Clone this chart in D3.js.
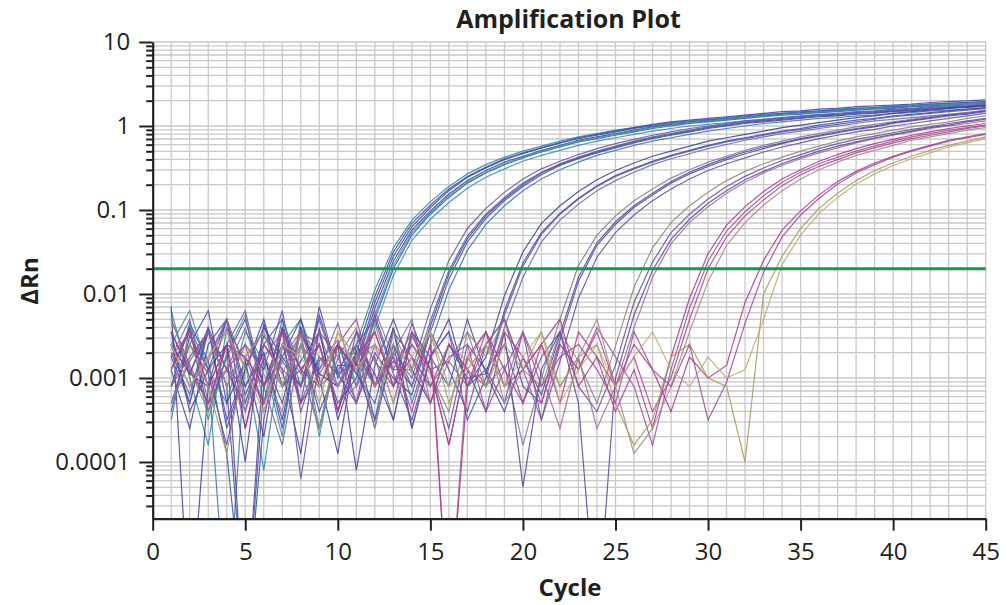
<!DOCTYPE html>
<html><head><meta charset="utf-8">
<script src="https://cdn.jsdelivr.net/npm/d3@7"></script>
<style>body{margin:0;background:#fff}svg{display:block}</style>
</head><body>
<svg id="chart" width="1007" height="605"></svg>
<script>
// ---- axis ticks / labels ----
const xTicks = [0,5,10,15,20,25,30,35,40,45];
const yMajorTicks = [10,1,0.1,0.01,0.001,0.0001];
const yTickLabels = ["10","1","0.1","0.01","0.001","0.0001"];
const thresholdValue = 0.02;
const titleText = "Amplification Plot";
const xLabel = "Cycle";
const yLabel = "ΔRn";

// ---- well curves: log10(ΔRn). "pre" starts at cycle 1, "amp" ends at cycle 45 ----
// group Ct ~12.8
const w01pre=[-2.6,-3.3,-2.4,-3.6,-2.9,-2.3,-3.1,-2.6,-3.4,-2.85];
const w01amp=[-2.85,-2.17,-1.61,-1.24,-1.01,-0.81,-0.65,-0.53,-0.43,-0.36,-0.29,-0.23,-0.17,-0.13,-0.09,-0.05,-0.01,0.02,0.04,0.06,0.08,0.10,0.12,0.14,0.15,0.17,0.18,0.20,0.21,0.22,0.23,0.25,0.26,0.27,0.28];
const w02pre=[-2.2,-3.0,-3.8,-2.4,-2.8,-4.1,-2.6,-2.3,-3.1,-2.9];
const w02amp=[-2.6,-1.95,-1.45,-1.12,-0.90,-0.72,-0.57,-0.46,-0.37,-0.30,-0.24,-0.18,-0.13,-0.09,-0.05,-0.02,0.01,0.04,0.06,0.08,0.10,0.12,0.14,0.15,0.17,0.18,0.20,0.21,0.22,0.24,0.25,0.26,0.27,0.28,0.29];
const w03pre=[-3.1,-2.35,-2.8,-3.9,-6,-3.5,-2.4,-3.1,-2.6,-3.3];
const w03amp=[-3.0,-2.3,-1.70,-1.30,-1.05,-0.85,-0.68,-0.56,-0.46,-0.38,-0.31,-0.25,-0.19,-0.15,-0.11,-0.07,-0.03,0.00,0.03,0.05,0.07,0.09,0.11,0.13,0.14,0.16,0.17,0.19,0.20,0.21,0.23,0.24,0.25,0.26,0.27];
const w04pre=[-2.15,-6,-3.1,-2.3,-3.6,-2.6,-2.9,-3.9,-2.4,-3.5];
const w04amp=[-2.8,-2.1,-1.55,-1.2,-0.97,-0.77,-0.61,-0.50,-0.40,-0.33,-0.26,-0.20,-0.14,-0.10,-0.06,-0.02,0.02,0.05,0.07,0.09,0.11,0.13,0.15,0.17,0.18,0.20,0.21,0.23,0.24,0.25,0.26,0.28,0.29,0.30,0.31];
const w05pre=[-2.6,-2.2,-2.9,-3.3,-2.45,-2.8,-3.7,-2.3,-2.9,-2.6];
const w05amp=[-3.1,-2.4,-1.78,-1.36,-1.11,-0.91,-0.74,-0.61,-0.51,-0.42,-0.35,-0.29,-0.23,-0.18,-0.14,-0.10,-0.06,-0.03,0.00,0.02,0.04,0.06,0.08,0.10,0.11,0.13,0.14,0.16,0.17,0.18,0.20,0.21,0.22,0.23,0.24];
const w30pre=[-3.4,-2.5,-2.9,-2.3,-3.2,-2.7,-3.6,-2.4,-2.95,-3.1];
const w30amp=[-2.7,-2.03,-1.50,-1.16,-0.94,-0.75,-0.60,-0.49,-0.39,-0.32,-0.26,-0.20,-0.15,-0.11,-0.07,-0.03,0.00,0.03,0.05,0.07,0.09,0.11,0.13,0.15,0.16,0.18,0.19,0.21,0.22,0.23,0.24,0.26,0.27,0.28,0.29];
const w31pre=[-2.9,-2.4,-3.5,-2.7,-2.25,-3.3,-2.8,-2.5,-3.7,-2.6];
const w31amp=[-2.95,-2.25,-1.66,-1.27,-1.03,-0.83,-0.67,-0.55,-0.45,-0.37,-0.30,-0.24,-0.18,-0.14,-0.10,-0.06,-0.02,0.01,0.04,0.06,0.08,0.10,0.12,0.14,0.15,0.17,0.18,0.20,0.21,0.22,0.24,0.25,0.26,0.27,0.28];
// group Ct ~16.1
const w06pre=[-2.9,-3.6,-2.6,-2.3,-3.1,-2.7,-3.5,-2.4,-3.0,-3.9,-2.6,-3.1,-2.8];
const w06amp=[-3.1,-2.38,-1.76,-1.34,-1.07,-0.87,-0.70,-0.56,-0.46,-0.38,-0.31,-0.25,-0.19,-0.14,-0.10,-0.06,-0.02,0.01,0.04,0.06,0.08,0.10,0.12,0.13,0.15,0.16,0.18,0.19,0.21,0.22,0.23,0.24];
const w07pre=[-2.3,-2.85,-3.3,-2.6,-2.2,-3.1,-2.4,-4.2,-2.8,-2.55,-3.3,-2.25,-2.9];
const w07amp=[-2.9,-2.18,-1.60,-1.22,-0.98,-0.79,-0.63,-0.51,-0.42,-0.34,-0.27,-0.21,-0.16,-0.11,-0.07,-0.03,0.00,0.03,0.06,0.08,0.10,0.12,0.14,0.15,0.17,0.18,0.20,0.21,0.23,0.24,0.25,0.26];
const w08pre=[-3.5,-2.4,-2.9,-6,-2.75,-3.3,-2.3,-2.9,-3.6,-2.6,-2.9,-3.5,-2.4];
const w08amp=[-3.3,-2.6,-1.95,-1.48,-1.17,-0.95,-0.77,-0.63,-0.52,-0.43,-0.35,-0.29,-0.23,-0.18,-0.14,-0.10,-0.06,-0.03,0.00,0.03,0.05,0.07,0.09,0.10,0.12,0.13,0.15,0.16,0.18,0.19,0.20,0.21];
const w09pre=[-2.6,-2.95,-2.4,-3.5,-2.9,-2.4,-2.75,-3.1,-2.25,-2.95,-3.3,-2.7,-3.0];
const w09amp=[-3.2,-2.45,-1.82,-1.38,-1.10,-0.89,-0.72,-0.58,-0.47,-0.39,-0.32,-0.26,-0.20,-0.15,-0.11,-0.07,-0.03,0.00,0.03,0.05,0.07,0.09,0.11,0.12,0.14,0.15,0.17,0.18,0.20,0.21,0.22,0.23];
const w32pre=[-2.7,-3.2,-2.4,-2.9,-3.4,-2.5,-2.8,-3.1,-2.3,-3.0,-2.6,-3.5,-2.7];
const w32amp=[-3.0,-2.32,-1.72,-1.31,-1.05,-0.85,-0.68,-0.55,-0.45,-0.37,-0.30,-0.24,-0.18,-0.13,-0.09,-0.05,-0.01,0.02,0.05,0.07,0.09,0.11,0.13,0.14,0.16,0.17,0.19,0.20,0.22,0.23,0.24,0.25];
// group Ct ~19.9
const w10pre=[-3.1,-2.6,-2.2,-3.3,-2.8,-3.7,-2.4,-2.9,-3.1,-2.6,-4.1,-2.85,-2.3,-2.9,-3.3,-2.6,-3.0];
const w10amp=[-2.95,-2.2,-1.63,-1.27,-1.04,-0.86,-0.71,-0.59,-0.50,-0.42,-0.35,-0.29,-0.23,-0.18,-0.14,-0.10,-0.06,-0.03,0.01,0.04,0.07,0.09,0.12,0.14,0.16,0.18,0.20,0.22];
const w11pre=[-2.45,-3.4,-2.9,-2.6,-4.0,-2.35,-3.1,-2.8,-2.45,-3.4,-2.7,-3.1,-2.4,-3.6,-2.75,-2.3,-3.1];
const w11amp=[-2.75,-2.02,-1.50,-1.16,-0.95,-0.78,-0.64,-0.53,-0.44,-0.36,-0.30,-0.24,-0.18,-0.14,-0.10,-0.06,-0.02,0.01,0.04,0.07,0.10,0.12,0.15,0.17,0.19,0.21,0.23,0.25];
const w12pre=[-2.75,-2.3,-3.3,-2.9,-2.4,-3.1,-3.8,-2.6,-2.9,-2.35,-3.1,-2.75,-3.5,-2.5,-2.9,-3.8,-2.75];
const w12amp=[-3.1,-2.4,-1.80,-1.38,-1.12,-0.93,-0.77,-0.65,-0.55,-0.46,-0.39,-0.33,-0.27,-0.22,-0.17,-0.13,-0.09,-0.06,-0.03,0.00,0.03,0.06,0.08,0.10,0.12,0.14,0.16,0.18];
const w13pre=[-3.3,-2.8,-2.45,-3.1,-2.6,-2.9,-2.2,-3.3,-2.75,-3.1,-2.6,-2.3,-2.95,-3.5,-2.75,-2.45,-3.5];
const w13amp=[-3.0,-2.25,-1.67,-1.29,-1.05,-0.87,-0.72,-0.60,-0.51,-0.43,-0.36,-0.30,-0.24,-0.19,-0.15,-0.11,-0.07,-0.04,-0.01,0.02,0.05,0.08,0.11,0.13,0.15,0.17,0.19,0.21];
// group Ct ~23.3
const w14pre=[-2.9,-2.4,-3.4,-2.75,-2.3,-3.1,-2.6,-3.3,-2.15,-2.95,-2.8,-3.6,-2.6,-3.1,-2.45,-2.9,-3.4,-2.6,-2.3,-3.1];
const w14amp=[-3.3,-2.55,-1.85,-1.42,-1.17,-0.97,-0.82,-0.68,-0.57,-0.48,-0.40,-0.33,-0.27,-0.21,-0.16,-0.12,-0.08,-0.04,-0.01,0.03,0.06,0.09,0.12,0.14,0.17];
const w15pre=[-2.6,-3.1,-2.75,-2.3,-3.3,-2.6,-2.95,-2.45,-3.6,-2.75,-2.4,-3.1,-2.7,-2.3,-3.3,-2.8,-2.45,-3.1,-2.85,-3.8];
const w15amp=[-3.0,-2.3,-1.66,-1.30,-1.07,-0.89,-0.75,-0.62,-0.52,-0.43,-0.36,-0.29,-0.23,-0.18,-0.13,-0.09,-0.05,-0.01,0.02,0.05,0.08,0.11,0.14,0.16,0.19];
const w16pre=[-3.3,-2.6,-2.95,-3.8,-2.75,-2.45,-3.1,-2.9,-2.6,-3.4,-2.45,-2.8,-3.1,-2.35,-2.9,-3.6,-2.6,-2.9,-3.3,-2.45];
const w16amp=[-3.5,-2.8,-2.05,-1.56,-1.27,-1.06,-0.89,-0.75,-0.63,-0.53,-0.45,-0.38,-0.31,-0.25,-0.20,-0.15,-0.11,-0.07,-0.04,0.00,0.03,0.06,0.09,0.12,0.15];
const w17pre=[-2.45,-2.95,-3.1,-2.6,-6,-2.75,-3.3,-2.45,-2.95,-3.1,-2.6,-2.95,-3.5,-2.45,-2.75,-3.1,-2.3,-2.95,-3.4,-2.75];
const w17amp=[-3.2,-2.48,-1.80,-1.39,-1.14,-0.95,-0.80,-0.66,-0.55,-0.46,-0.38,-0.31,-0.25,-0.20,-0.15,-0.11,-0.07,-0.03,0.00,0.04,0.07,0.10,0.13,0.15,0.18];
// group Ct ~26.7
const w18pre=[-2.75,-3.3,-2.45,-2.9,-3.1,-2.6,-2.3,-3.4,-2.75,-2.95,-2.45,-3.1,-2.6,-3.6,-2.75,-2.45,-3.1,-2.9,-2.6,-3.3,-2.75,-2.45,-3.1];
const w18amp=[-3.4,-2.85,-2.1,-1.62,-1.27,-1.05,-0.87,-0.72,-0.60,-0.50,-0.41,-0.34,-0.27,-0.21,-0.16,-0.12,-0.08,-0.04,-0.01,0.03,0.06,0.09];
const w19pre=[-2.3,-2.9,-3.4,-2.6,-2.75,-3.1,-2.45,-2.9,-3.6,-2.6,-2.8,-2.35,-3.1,-2.6,-2.95,-3.4,-2.45,-2.75,-2.3,-2.9,-3.1,-2.45,-2.8,-3.3];
const w19amp=[-2.62,-1.92,-1.45,-1.15,-0.95,-0.79,-0.65,-0.54,-0.45,-0.37,-0.30,-0.24,-0.18,-0.13,-0.09,-0.05,-0.01,0.02,0.05,0.09,0.12];
const w20pre=[-3.1,-2.6,-2.95,-2.4,-3.4,-2.75,-3.1,-2.45,-2.6,-3.3,-3.1,-2.2,-2.75,-3.1,-2.45,-6,-2.9,-2.6,-3.1,-2.45,-2.95,-3.6,-2.75,-3.6];
const w20amp=[-3.1,-2.4,-1.80,-1.40,-1.15,-0.96,-0.80,-0.67,-0.56,-0.47,-0.39,-0.32,-0.26,-0.20,-0.15,-0.11,-0.07,-0.03,0.00,0.03,0.06];
const w21pre=[-2.6,-2.95,-2.45,-3.1,-6,-3.1,-2.75,-2.3,-3.1,-2.6,-2.95,-3.3,-2.45,-2.75,-3.1,-2.6,-2.9,-3.4,-2.45,-4.3,-2.9,-2.45,-3.3,-6];
const w21amp=[-3.0,-2.25,-1.72,-1.35,-1.11,-0.92,-0.77,-0.64,-0.54,-0.45,-0.37,-0.30,-0.24,-0.19,-0.14,-0.10,-0.06,-0.02,0.01,0.05,0.08];
// group Ct ~29.8
const w22pre=[-2.9,-2.45,-3.1,-2.6,-3.6,-2.75,-2.45,-3.3,-2.95,-2.6,-2.3,-3.1,-2.75,-3.4,-2.6,-6,-3.1,-2.45,-2.9,-3.3,-2.6,-2.3,-3.1,-2.75,-3.4,-2.9,-3.6];
const w22amp=[-2.75,-2.05,-1.52,-1.18,-0.96,-0.78,-0.63,-0.52,-0.42,-0.34,-0.27,-0.21,-0.16,-0.11,-0.07,-0.03,0.00,0.03];
const w23pre=[-2.6,-3.1,-2.8,-2.3,-2.9,-3.3,-2.6,-2.95,-2.45,-3.1,-2.75,-2.6,-3.3,-2.45,-2.9,-2.8,-3.1,-2.6,-2.3,-2.9,-3.5,-2.6,-2.9,-2.4,-2.75,-3.1,-3.8];
const w23amp=[-2.9,-2.17,-1.61,-1.25,-1.02,-0.83,-0.67,-0.55,-0.45,-0.37,-0.30,-0.24,-0.18,-0.13,-0.09,-0.05,-0.02,0.01];
const w24pre=[-3.3,-2.75,-2.45,-3.1,-2.6,-2.95,-3.4,-2.45,-2.75,-3.1,-2.6,-3.6,-2.45,-2.95,-3.1,-2.6,-2.8,-2.45,-3.3,-2.9,-2.6,-3.1,-2.75,-2.3,-3.1,-3.9,-3.6];
const w24amp=[-3.1,-2.45,-1.85,-1.42,-1.15,-0.94,-0.77,-0.63,-0.52,-0.43,-0.35,-0.29,-0.23,-0.17,-0.13,-0.09,-0.05,-0.02];
const w25pre=[-2.75,-2.45,-3.1,-2.9,-2.6,-3.4,-2.75,-2.45,-3.1,-2.6,-2.9,-2.45,-3.1,-2.75,-3.3,-2.6,-2.9,-3.1,-2.45,-2.75,-3.3,-2.6,-2.9,-2.45,-3.1,-2.75,-3.4];
const w25amp=[-3.0,-2.3,-1.70,-1.32,-1.07,-0.88,-0.71,-0.58,-0.48,-0.40,-0.32,-0.26,-0.20,-0.15,-0.11,-0.07,-0.03,0.00];
// group Ct ~33.2
const w26pre=[-2.45,-2.9,-3.3,-2.6,-2.75,-3.1,-2.45,-2.9,-2.6,-3.4,-2.75,-2.45,-3.1,-2.6,-2.9,-3.8,-2.75,-2.45,-3.1,-2.9,-2.6,-3.3,-2.45,-2.75,-3.1,-2.6,-2.9,-3.4,-2.75,-3.0];
const w26amp=[-2.85,-2.1,-1.60,-1.24,-1.01,-0.82,-0.66,-0.54,-0.44,-0.36,-0.29,-0.23,-0.17,-0.13,-0.09];
const w27pre=[-2.9,-2.6,-3.1,-3.9,-2.75,-2.45,-3.1,-2.6,-3.3,-2.45,-2.75,-3.1,-2.6,-2.9,-2.45,-3.3,-2.75,-3.1,-2.6,-2.9,-2.45,-3.1,-2.75,-2.6,-3.3,-3.8,-3.5,-2.75,-2.6,-3.0,-3.1];
const w27amp=[-4.0,-2.0,-1.55,-1.22,-0.98,-0.80,-0.65,-0.53,-0.44,-0.36,-0.29,-0.23,-0.18,-0.13];
const w28pre=[-3.1,-2.75,-2.45,-2.9,-3.3,-2.6,-2.9,-3.1,-2.45,-2.75,-3.3,-2.6,-2.9,-2.45,-3.1,-2.75,-2.6,-3.4,-2.9,-2.45,-3.1,-2.75,-2.6,-2.9,-3.3,-2.45,-2.9,-3.1,-2.6,-3.5];
const w28amp=[-3.05,-2.35,-1.74,-1.32,-1.06,-0.86,-0.69,-0.56,-0.46,-0.37,-0.30,-0.24,-0.18,-0.14,-0.10];
const w29pre=[-2.6,-3.1,-2.75,-2.45,-2.9,-3.4,-2.6,-2.75,-3.1,-2.45,-2.9,-2.6,-3.3,-2.75,-2.45,-3.1,-2.9,-2.6,-3.1,-2.75,-2.45,-3.3,-2.9,-2.6,-3.1,-2.75,-2.45,-2.9,-3.1,-2.75];
const w29amp=[-3.0,-2.9,-2.3,-1.65,-1.30,-1.04,-0.85,-0.69,-0.57,-0.47,-0.39,-0.32,-0.25,-0.20,-0.15];

const wellPre = [w01pre,w02pre,w03pre,w04pre,w05pre,w30pre,w31pre,w06pre,w07pre,w08pre,w09pre,w32pre,w10pre,w11pre,w12pre,w13pre,w14pre,w15pre,w16pre,w17pre,w18pre,w19pre,w20pre,w21pre,w22pre,w23pre,w24pre,w25pre,w26pre,w27pre,w28pre,w29pre];
const wellAmp = [w01amp,w02amp,w03amp,w04amp,w05amp,w30amp,w31amp,w06amp,w07amp,w08amp,w09amp,w32amp,w10amp,w11amp,w12amp,w13amp,w14amp,w15amp,w16amp,w17amp,w18amp,w19amp,w20amp,w21amp,w22amp,w23amp,w24amp,w25amp,w26amp,w27amp,w28amp,w29amp];
const wellColors = ["#3b46b5","#2f8f9f","#2c5fb0","#4b3fa8","#3d8fa5","#3553b0","#3a9c96",
  "#4446a8","#6a57a6","#3a78b0","#58489e","#4a62b0",
  "#5047a8","#3f3f9e","#7466a0","#4a5bb0",
  "#5c4aa6","#857a95","#6b4f9e","#4b4aa8",
  "#6a4ea0","#8f8a78","#a06a9a","#5d4a9c",
  "#b0388c","#8e5a9c","#a48a8a","#b5428f",
  "#b03a8a","#a89a62","#9c4f98","#c0a878"];

// ---- drawing ----
const svg = d3.select("#chart");
svg.append("rect").attr("width",1007).attr("height",605).attr("fill","#fff");
const L = 152.7, R = 985.7, T = 42, B = 518.7;
const x = d3.scaleLinear().domain([0,45]).range([L,R]);
const y = d3.scaleLog().domain([Math.pow(10,-4.675),10]).range([B,T]);
const font = "'Open Sans','Noto Sans','DejaVu Sans',sans-serif";
const ink = "#231f20";

svg.append("defs").append("clipPath").attr("id","plotclip")
  .append("rect").attr("x",L).attr("y",T).attr("width",R-L).attr("height",B-T);

// grid
const grid = svg.append("g").attr("stroke","#c9c9c9").attr("stroke-width",1.3);
const xGrid = d3.range(1,46);
grid.selectAll("line.v").data(xGrid).join("line").attr("class","v")
  .attr("x1",d=>x(d)).attr("x2",d=>x(d)).attr("y1",T).attr("y2",B);
const yGrid = [];
for (let e=-5;e<=0;e++) for (let k=1;k<=9;k++){ const v=k*Math.pow(10,e); if(v>=y.domain()[0]) yGrid.push(v); }
yGrid.push(10);
grid.selectAll("line.h").data(yGrid).join("line").attr("class","h")
  .attr("x1",L).attr("x2",R).attr("y1",d=>y(d)).attr("y2",d=>y(d));

// curves
const wells = wellPre.map((pre,i)=>{
  const amp = wellAmp[i];
  const start = 45 - amp.length + 1;
  const pts = [];
  pre.slice(0, start-1).forEach((v,j)=>pts.push({c:j+1,v}));
  amp.forEach((v,j)=>pts.push({c:start+j,v}));
  return {pts, color: wellColors[i]};
});
const line = d3.line().x(d=>x(d.c)).y(d=>y(Math.pow(10,d.v)));
svg.append("g").attr("clip-path","url(#plotclip)")
  .selectAll("path").data(wells).join("path")
  .attr("d",d=>line(d.pts)).attr("fill","none")
  .attr("stroke",d=>d.color).attr("stroke-width",1.2).attr("stroke-opacity",0.88);

// threshold
svg.append("line").attr("x1",L).attr("x2",R)
  .attr("y1",y(thresholdValue)).attr("y2",y(thresholdValue))
  .attr("stroke","#14994a").attr("stroke-width",3);

// y axis
const yAll = yGrid.filter(v=>v<=10);
const yAx = svg.append("g").attr("transform",`translate(${L},0)`)
  .call(d3.axisLeft(y).tickValues(yAll).tickSize(6).tickSizeOuter(0).tickPadding(16.5)
    .tickFormat(d=>{const i=yMajorTicks.findIndex(m=>Math.abs(m-d)/m<1e-6); return i>=0?yTickLabels[i]:"";}));
yAx.select(".domain").attr("stroke",ink).attr("stroke-width",2.2);
yAx.selectAll(".tick line").attr("stroke",ink).attr("stroke-width",2)
  .attr("x2",d=>yMajorTicks.some(m=>Math.abs(m-d)/m<1e-6)?-13.5:-6.5);
yAx.selectAll(".tick text").attr("font-family",font).attr("font-size",24).attr("fill",ink);

// x axis
const xAx = svg.append("g").attr("transform",`translate(0,${B})`)
  .call(d3.axisBottom(x).tickValues(xTicks).tickSize(12).tickSizeOuter(0).tickPadding(12));
xAx.select(".domain").attr("stroke",ink).attr("stroke-width",2.2);
xAx.selectAll(".tick line").attr("stroke",ink).attr("stroke-width",2);
xAx.selectAll(".tick text").attr("font-family",font).attr("font-size",24).attr("fill",ink);

// titles
svg.append("text").attr("x",568.5).attr("y",28).attr("text-anchor","middle")
  .attr("font-family",font).attr("font-weight",700).attr("font-size",25).attr("fill",ink).text(titleText);
svg.append("text").attr("x",570).attr("y",596).attr("text-anchor","middle")
  .attr("font-family",font).attr("font-weight",700).attr("font-size",24).attr("fill",ink).text(xLabel);
svg.append("text").attr("transform","translate(38,281) rotate(-90)").attr("text-anchor","middle")
  .attr("font-family",font).attr("font-weight",700).attr("font-size",24).attr("fill",ink).text(yLabel);
</script>
</body></html>
